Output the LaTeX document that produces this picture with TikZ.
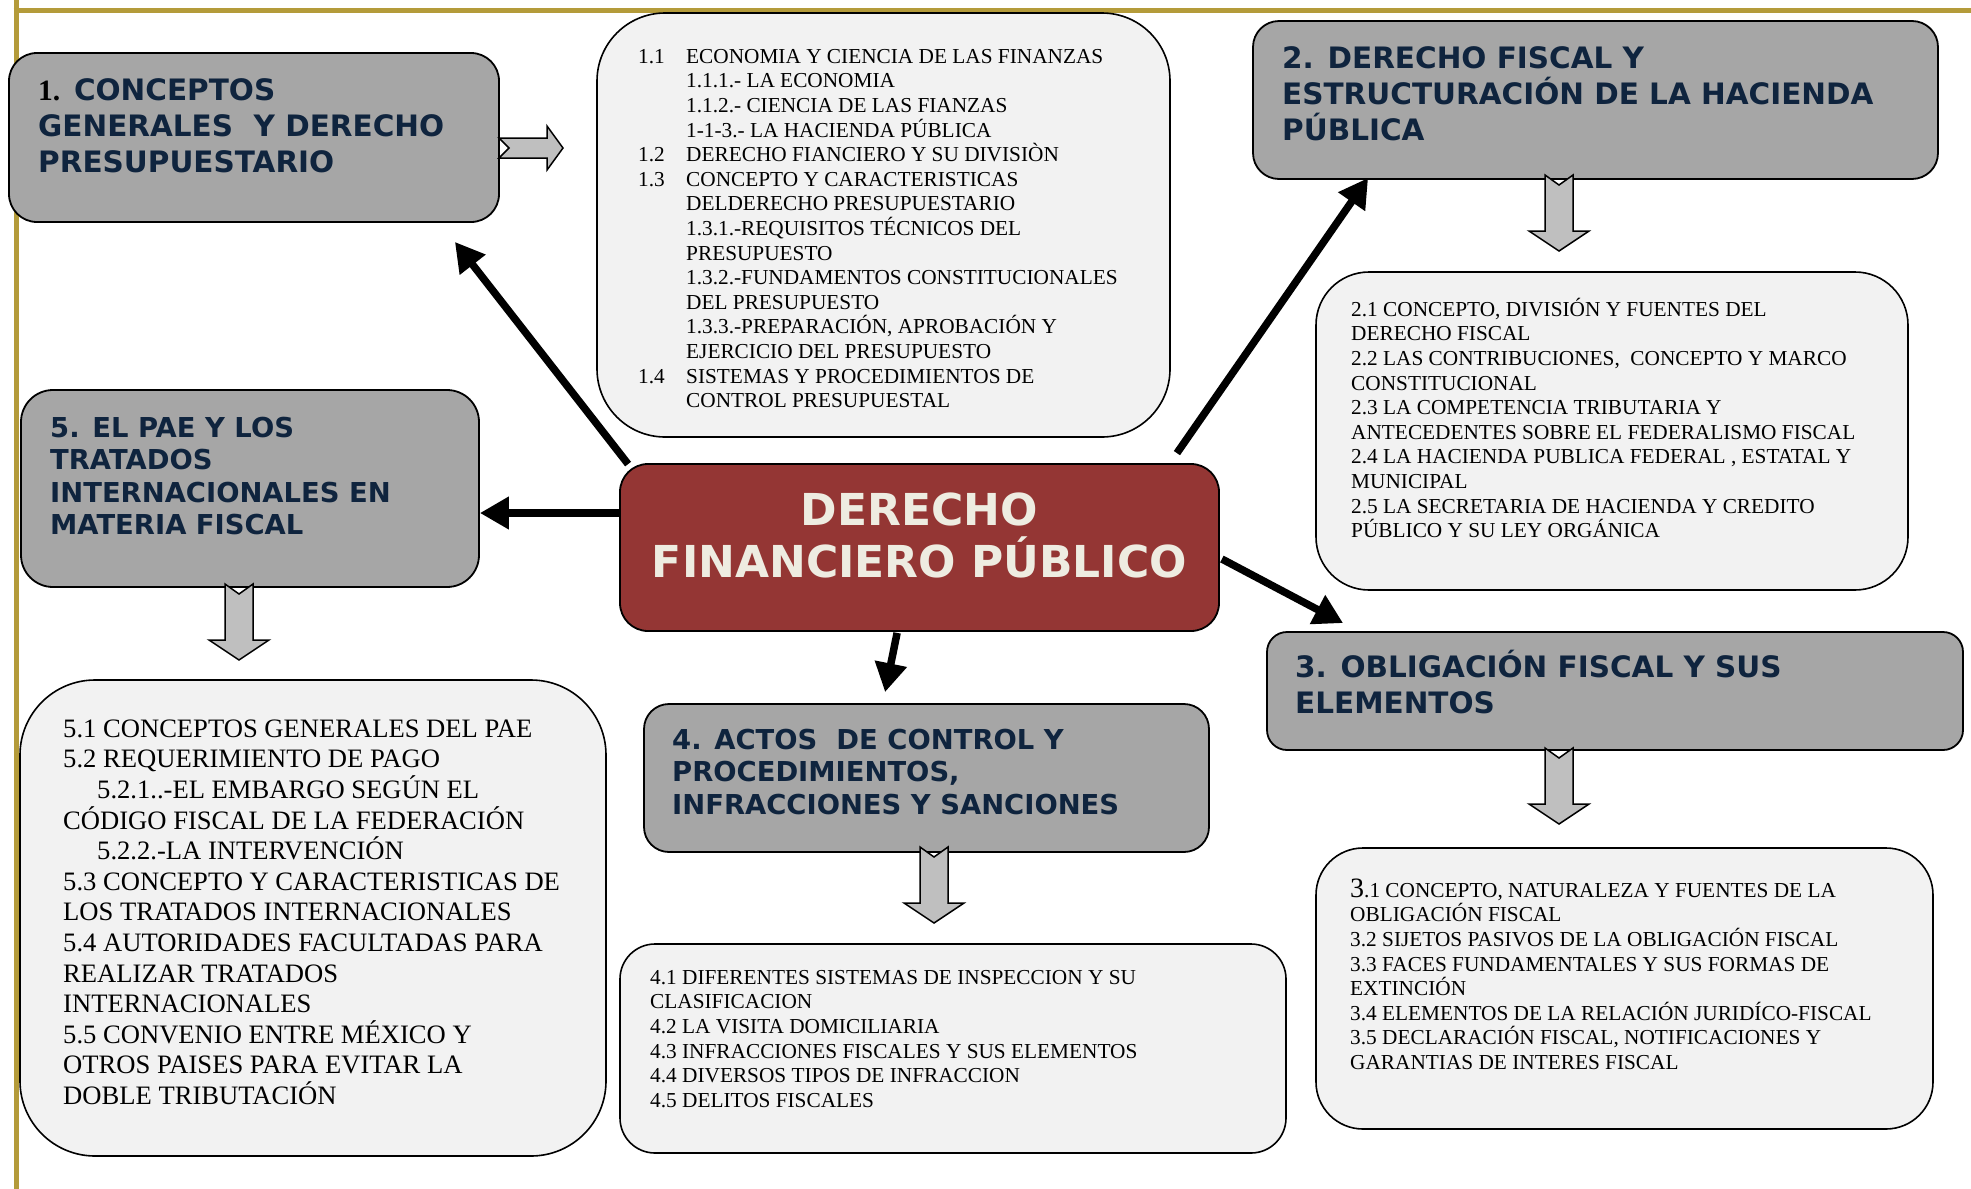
\documentclass[tikz,border=0pt]{standalone}
\usepackage{fontspec}
\setmainfont{Liberation Serif}
\newfontfamily\hdrfont{DejaVu Sans}
\usetikzlibrary{arrows.meta,calc}
\definecolor{gold}{HTML}{B49B3A}
\definecolor{hdrgray}{HTML}{A6A6A6}
\definecolor{detgray}{HTML}{F2F2F2}
\definecolor{blockgray}{HTML}{BFBFBF}
\definecolor{navy}{HTML}{0F243E}
\definecolor{darkred}{HTML}{943634}
\definecolor{cream}{HTML}{EEECE1}
\newcommand\firstln[1]{\rule{0pt}{#1}}
\tikzset{
  hbox/.style={draw=black, line width=1.8pt, fill=hdrgray, rectangle, inner sep=0pt},
  dbox/.style={draw=black, line width=1.6pt, fill=detgray, rectangle, inner sep=0pt},
  cbox/.style={draw=black, line width=1.8pt, fill=darkred, rectangle, inner sep=0pt},
  htextA/.style={anchor=north west, inner sep=0pt, align=left, text=navy,
    font=\hdrfont\bfseries\fontsize{29.5pt}{36pt}\selectfont},
  htextB/.style={anchor=north west, inner sep=0pt, align=left, text=navy,
    font=\hdrfont\bfseries\fontsize{27.4pt}{32.4pt}\selectfont},
  dtext/.style={anchor=north west, inner sep=0pt, align=left, text=black,
    font=\fontsize{21.3pt}{24.6pt}\selectfont},
  dtextL/.style={anchor=north west, inner sep=0pt, align=left, text=black,
    font=\fontsize{26.6pt}{30.6pt}\selectfont},
  ctext/.style={anchor=north, inner sep=0pt, align=center, text=cream,
    font=\hdrfont\bfseries\fontsize{44pt}{52pt}\selectfont},
  conn/.style={draw=black, line width=7.5pt, -{Triangle[length=29pt,width=31pt]}},
  blockarrow/.style={draw=black, line width=1.5pt, fill=blockgray, line join=miter},
  downblock/.pic={\path[blockarrow] (-14,0) -- (0,10) -- (14,0) -- (14,56) -- (30,56)
      -- (0,76) -- (-30,56) -- (-14,56) -- cycle;},
  rightblock/.pic={\path[blockarrow] (0,-10) -- (48,-10) -- (48,-22) -- (64,0)
      -- (48,22) -- (48,10) -- (0,10) -- (10,0) -- cycle;}
}
\begin{document}
\begin{tikzpicture}[x=1pt,y=-1pt]
\useasboundingbox (0,0) rectangle (1971,1189);
\fill[white] (0,0) rectangle (1971,1189);
% frame lines
\draw[gold, line width=5pt] (16,0) -- (16,1189);
\draw[gold, line width=5pt] (13.5,10) -- (1971,10);

% boxes
\node[hbox, minimum width=490pt, minimum height=169pt, rounded corners=28pt] (b1) at (254,137.5) {};
\node[dbox, minimum width=573pt, minimum height=424pt, rounded corners=68pt] (d1) at (883.5,225) {};
\node[hbox, minimum width=685pt, minimum height=158pt, rounded corners=26pt] (b2) at (1595.5,100) {};
\node[dbox, minimum width=592pt, minimum height=318pt, rounded corners=53pt] (d2) at (1612,431) {};
\node[hbox, minimum width=458pt, minimum height=197pt, rounded corners=32pt] (b5) at (250,488.5) {};
\node[dbox, minimum width=586pt, minimum height=476pt, rounded corners=75pt] (d5) at (313,918) {};
\node[cbox, minimum width=599pt, minimum height=167pt, rounded corners=28pt] (c) at (919.5,547.5) {};
\node[hbox, minimum width=565pt, minimum height=148pt, rounded corners=25pt] (b4) at (926.5,778) {};
\node[dbox, minimum width=666pt, minimum height=209pt, rounded corners=35pt] (d4) at (953,1048.5) {};
\node[hbox, minimum width=696pt, minimum height=118pt, rounded corners=20pt] (b3) at (1615,691) {};
\node[dbox, minimum width=617pt, minimum height=281pt, rounded corners=47pt] (d3) at (1624.5,988.5) {};

% texts
\node[htextA] (t1) at (38,70) {\firstln{30pt}{\color{black}\rmfamily\bfseries 1.} CONCEPTOS\\
GENERALES\ \ Y DERECHO\\
PRESUPUESTARIO};
\node[dtext] (s1) at (638,42) {\firstln{21pt}\makebox[48pt][l]{1.1}ECONOMIA Y CIENCIA DE LAS FINANZAS\\
\makebox[48pt][l]{}1.1.1.- LA ECONOMIA\\
\makebox[48pt][l]{}1.1.2.- CIENCIA DE LAS FIANZAS\\
\makebox[48pt][l]{}1-1-3.- LA HACIENDA PÚBLICA\\
\makebox[48pt][l]{1.2}DERECHO FIANCIERO Y SU DIVISIÒN\\
\makebox[48pt][l]{1.3}CONCEPTO Y CARACTERISTICAS\\
\makebox[48pt][l]{}DELDERECHO PRESUPUESTARIO\\
\makebox[48pt][l]{}1.3.1.-REQUISITOS TÉCNICOS DEL\\
\makebox[48pt][l]{}PRESUPUESTO\\
\makebox[48pt][l]{}1.3.2.-FUNDAMENTOS CONSTITUCIONALES\\
\makebox[48pt][l]{}DEL PRESUPUESTO\\
\makebox[48pt][l]{}1.3.3.-PREPARACIÓN, APROBACIÓN Y\\
\makebox[48pt][l]{}EJERCICIO DEL PRESUPUESTO\\
\makebox[48pt][l]{1.4}SISTEMAS Y PROCEDIMIENTOS DE\\
\makebox[48pt][l]{}CONTROL PRESUPUESTAL};
\node[htextA] (t2) at (1282,38) {\firstln{30pt}2. DERECHO FISCAL Y\\
ESTRUCTURACIÓN DE LA HACIENDA\\
PÚBLICA};
\node[dtext] (s2) at (1351,295) {\firstln{21pt}2.1 CONCEPTO, DIVISIÓN Y FUENTES DEL\\
DERECHO FISCAL\\
2.2 LAS CONTRIBUCIONES,\ \ CONCEPTO Y MARCO\\
CONSTITUCIONAL\\
2.3 LA COMPETENCIA TRIBUTARIA Y\\
ANTECEDENTES SOBRE EL FEDERALISMO FISCAL\\
2.4 LA HACIENDA PUBLICA FEDERAL , ESTATAL Y\\
MUNICIPAL\\
2.5 LA SECRETARIA DE HACIENDA Y CREDITO\\
PÚBLICO Y SU LEY ORGÁNICA};
\node[htextB] (t5) at (50,407) {\firstln{30pt}5. EL PAE Y LOS\\
TRATADOS\\
INTERNACIONALES EN\\
MATERIA FISCAL};
\node[dtextL] (s5) at (63,711) {\firstln{26pt}5.1 CONCEPTOS GENERALES DEL PAE\\
5.2 REQUERIMIENTO DE PAGO\\
\hspace*{34pt}5.2.1..-EL EMBARGO SEGÚN EL\\
CÓDIGO FISCAL DE LA FEDERACIÓN\\
\hspace*{34pt}5.2.2.-LA INTERVENCIÓN\\
5.3 CONCEPTO Y CARACTERISTICAS DE\\
LOS TRATADOS INTERNACIONALES\\
5.4 AUTORIDADES FACULTADAS PARA\\
REALIZAR TRATADOS\\
INTERNACIONALES\\
5.5 CONVENIO ENTRE MÉXICO Y\\
OTROS PAISES PARA EVITAR LA\\
DOBLE TRIBUTACIÓN};
\node[ctext] (tc) at (919.5,481) {\firstln{44pt}DERECHO\\
FINANCIERO PÚBLICO};
\node[htextB] (t4) at (672,719) {\firstln{30pt}4. ACTOS\ \ DE CONTROL Y\\
PROCEDIMIENTOS,\\
INFRACCIONES Y SANCIONES};
\node[dtext] (s4) at (650,963) {\firstln{21pt}4.1 DIFERENTES SISTEMAS DE INSPECCION Y SU\\
CLASIFICACION\\
4.2 LA VISITA DOMICILIARIA\\
4.3 INFRACCIONES FISCALES Y SUS ELEMENTOS\\
4.4 DIVERSOS TIPOS DE INFRACCION\\
4.5 DELITOS FISCALES};
\node[htextA] (t3) at (1295,647) {\firstln{30pt}3. OBLIGACIÓN FISCAL Y SUS\\
ELEMENTOS};
\node[dtext] (s3) at (1350,876) {\firstln{21pt}{\fontsize{28pt}{24.6pt}\selectfont 3}.1 CONCEPTO, NATURALEZA Y FUENTES DE LA\\
OBLIGACIÓN FISCAL\\
3.2 SIJETOS PASIVOS DE LA OBLIGACIÓN FISCAL\\
3.3 FACES FUNDAMENTALES Y SUS FORMAS DE\\
EXTINCIÓN\\
3.4 ELEMENTOS DE LA RELACIÓN JURIDÍCO-FISCAL\\
3.5 DECLARACIÓN FISCAL, NOTIFICACIONES Y\\
GARANTIAS DE INTERES FISCAL};

% block arrows
\pic at (499,148) {rightblock};
\pic at (1559,175) {downblock};
\pic at (239,584) {downblock};
\pic at (934,847) {downblock};
\pic at (1559,748) {downblock};

% connectors
\draw[conn] ($(c.north west)+(9,1)$) -- ($(b1.south east)+(-45,19)$);
\draw[conn] ($(c.north east)+(-43,-10)$) -- ($(b2.south west)+(116,-2)$);
\draw[conn] ($(c.west)+(0,-34.5)$) -- ($(b5.east)+(0,24.5)$);
\draw[conn] ($(c.south west)+(278,1)$) -- ($(b4.north west)+(242,-11)$);
\draw[conn] ($(c.east)+(2,11.5)$) -- ($(b3.north west)+(77,-8)$);
\end{tikzpicture}
\end{document}
